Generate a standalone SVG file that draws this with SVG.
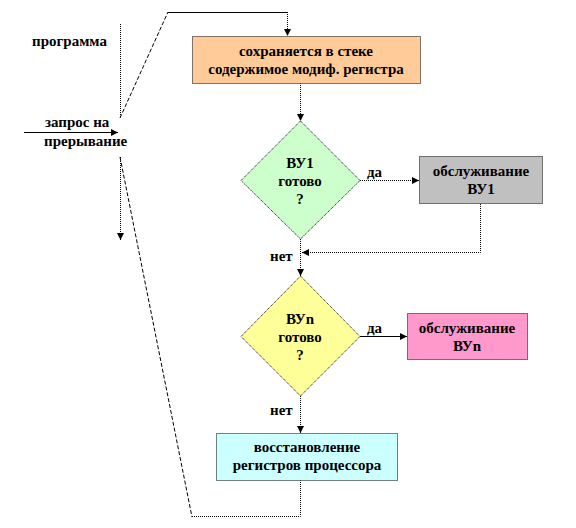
<svg xmlns="http://www.w3.org/2000/svg" width="576" height="528" viewBox="0 0 576 528" font-family="'Liberation Serif', 'DejaVu Serif', serif" font-weight="bold">
<defs>
<marker id="ah" viewBox="0 0 10 10" refX="10" refY="5" markerWidth="7" markerHeight="7" orient="auto" markerUnits="userSpaceOnUse">
<path d="M0,0 L10,5 L0,10 z" fill="#000"/>
</marker>
</defs>
<style>
text{font-family:'Liberation Serif','DejaVu Serif',serif;font-weight:bold;font-size:15px;fill:#000}
.c{text-anchor:middle}
.shape{stroke:#000;stroke-width:1;stroke-dasharray:1 1}
.dot{fill:none;stroke:#000;stroke-width:1;stroke-dasharray:1 1}
.sol{fill:none;stroke:#000;stroke-width:1}
.dash{fill:none;stroke:#000;stroke-width:1;stroke-dasharray:4 2}
</style>
<rect width="576" height="528" fill="#fff"/>
<g id="labels">
<text x="32" y="46">программа</text>
<text x="45" y="127">запрос на</text>
<text x="44" y="146">прерывание</text>
</g>
<g id="connectors">
<line class="dot" x1="120.5" y1="24" x2="120.5" y2="118"/>
<line class="dash" x1="120" y1="118" x2="168" y2="12"/>
<polyline class="sol" points="168,12.5 287.5,12.5"/>
<line class="dot" x1="287.5" y1="12" x2="287.5" y2="36" marker-end="url(#ah)"/>
<line class="sol" x1="24" y1="132.5" x2="118" y2="132.5" marker-end="url(#ah)"/>
<line class="dot" x1="120.5" y1="157" x2="120.5" y2="240" marker-end="url(#ah)"/>
<line class="dash" x1="120" y1="157" x2="192" y2="517"/>
<line class="dot" x1="300.5" y1="83" x2="300.5" y2="121" marker-end="url(#ah)"/>
<line class="dot" x1="360" y1="180.5" x2="419" y2="180.5" marker-end="url(#ah)"/>
<polyline class="dot" points="480.5,204 480.5,252.5 302,252.5" marker-end="url(#ah)"/>
<line class="dot" x1="300.5" y1="239" x2="300.5" y2="276" marker-end="url(#ah)"/>
<line class="sol" x1="360" y1="336.5" x2="407" y2="336.5" marker-end="url(#ah)"/>
<line class="dot" x1="300.5" y1="396" x2="300.5" y2="433" marker-end="url(#ah)"/>
<polyline class="dot" points="300.5,480 300.5,516.5 192,516.5"/>
<text x="367" y="177">да</text>
<text x="270" y="261">нет</text>
<text x="367" y="333">да</text>
<text x="270" y="415">нет</text>
</g>
<g id="save">
<rect class="shape" x="192.5" y="36.5" width="228" height="47" fill="#FFCC99"/>
<text class="c" x="306" y="56">сохраняется в стеке</text>
<text class="c" x="306" y="74">содержимое модиф. регистра</text>
</g>
<g id="vu1">
<polygon class="shape" points="300.5,121 360,180.5 300.5,239 241,180.5" fill="#CCFFCC"/>
<text class="c" x="300" y="168">ВУ1</text>
<text class="c" x="300" y="186">готово</text>
<text class="c" x="300" y="204">?</text>
</g>
<g id="serve1">
<rect class="shape" x="419.5" y="156.5" width="123" height="47" fill="#C0C0C0"/>
<text class="c" x="481" y="176">обслуживание</text>
<text class="c" x="481" y="194">ВУ1</text>
</g>
<g id="vun">
<polygon class="shape" points="300.5,276 360,336.5 300.5,396 241,336.5" fill="#FFFF99"/>
<text class="c" x="300" y="324">ВУn</text>
<text class="c" x="300" y="342">готово</text>
<text class="c" x="300" y="360">?</text>
</g>
<g id="serven">
<rect class="shape" x="407.5" y="313.5" width="120" height="46" fill="#FF99CC"/>
<text class="c" x="467" y="333">обслуживание</text>
<text class="c" x="467" y="351">ВУn</text>
</g>
<g id="restore">
<rect class="shape" x="216.5" y="433.5" width="181" height="47" fill="#CCFFFF"/>
<text class="c" x="307" y="452">восстановление</text>
<text class="c" x="307" y="470">регистров процессора</text>
</g>
</svg>
